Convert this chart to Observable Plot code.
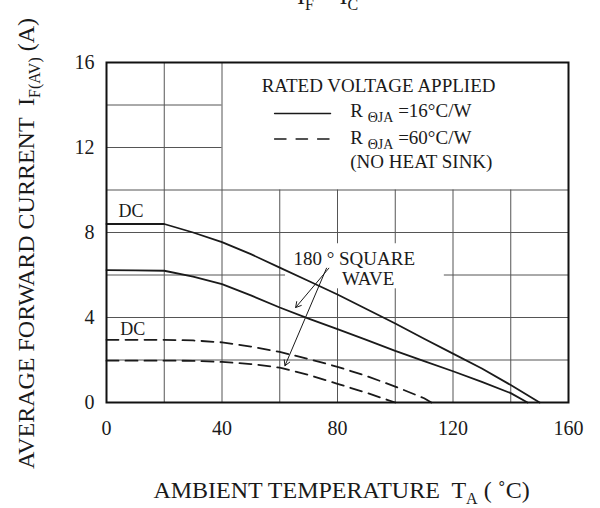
<!DOCTYPE html>
<html><head><meta charset="utf-8">
<script src="https://cdn.jsdelivr.net/npm/d3@7"></script>
<script src="https://cdn.jsdelivr.net/npm/@observablehq/plot@0.6"></script>
<style>
body{margin:0;background:#fff;}
#chart{position:relative;width:600px;height:508px;overflow:hidden;}
svg text{white-space:pre;}
</style></head><body><div id="chart"></div>
<script>
// ---- data ----
const temps16DC = [0,10,20,30,40,50,60,70,80,90,100,110,120,130,140,150];
const amps16DC  = [8.4,8.4,8.4,8.0,7.55,6.98,6.35,5.72,5.08,4.4,3.72,3.0,2.3,1.6,0.82,0];
const temps16SW = [0,10,20,30,40,50,60,70,80,90,100,110,120,130,140,145.8];
const amps16SW  = [6.23,6.22,6.2,5.92,5.57,5.04,4.47,3.95,3.45,2.95,2.43,1.95,1.47,0.97,0.44,0];
const temps60DC = [0,10,20,30,40,50,60,70,80,90,100,110,112.5];
const amps60DC  = [2.95,2.95,2.95,2.92,2.83,2.63,2.38,2.05,1.68,1.25,0.75,0.2,0];
const temps60SW = [0,10,20,30,40,50,60,70,80,90,100];
const amps60SW  = [1.97,1.97,1.97,1.96,1.91,1.81,1.64,1.3,0.88,0.46,0];
const xTicks = [0,40,80,120,160];
const yTicks = [0,4,8,12,16];
const vGridX   = [20,40,60,80,100,120,140];
const vGridTop = [16,16,10,10,10,10,10];
const hGridY     = [2,4,6,8,10,12,14];
const hGridRight = [160,160,160,160,160,40,40];

// ---- annotation anchors (data units) ----
const labelBox = [{x1:62, x2:117, y1:5.35, y2:7.47}];
const arrows = [{x1:77.0, y1:6.32, x2:65.5, y2:4.47},{x1:76.2, y1:6.32, x2:61.8, y2:1.73}];
const legendSolid = [{x:58.2, y:13.6},{x:77.6, y:13.6}];
const legendDash  = [{x:58.2, y:12.4},{x:77.6, y:12.4}];

const toRows = (xs, ys) => xs.map((x, i) => ({x, y: ys[i]}));
const FONT = '"Liberation Serif","Times New Roman",serif';
const INK = "#1a1a1a";

const plot = Plot.plot({
  width: 600, height: 508,
  marginLeft: 106, marginRight: 32, marginTop: 62, marginBottom: 106,
  x: {domain: [0,160]},
  y: {domain: [0,16]},
  style: {fontFamily: FONT, fontSize: "20px", color: INK, background: "white"},
  marks: [
    Plot.ruleX(vGridX.map((x,i)=>({x, top: vGridTop[i]})), {x:"x", y1:0, y2:"top", stroke:"#555", strokeWidth:1}),
    Plot.ruleY(hGridY.map((y,i)=>({y, right: hGridRight[i]})), {y:"y", x1:0, x2:"right", stroke:"#555", strokeWidth:1}),
    Plot.rect(labelBox, {x1:"x1", x2:"x2", y1:"y1", y2:"y2", fill:"white"}),
    Plot.line(toRows(temps16DC, amps16DC), {x:"x", y:"y", stroke:INK, strokeWidth:1.8}),
    Plot.line(toRows(temps16SW, amps16SW), {x:"x", y:"y", stroke:INK, strokeWidth:1.8}),
    Plot.line(toRows(temps60DC, amps60DC), {x:"x", y:"y", stroke:INK, strokeWidth:1.8, strokeDasharray:"12,7"}),
    Plot.line(toRows(temps60SW, amps60SW), {x:"x", y:"y", stroke:INK, strokeWidth:1.8, strokeDasharray:"12,7"}),
    Plot.line(legendSolid, {x:"x", y:"y", stroke:INK, strokeWidth:1.3}),
    Plot.line(legendDash, {x:"x", y:"y", stroke:INK, strokeWidth:1.3, strokeDasharray:"11.5,10"}),
    Plot.arrow(arrows, {x1:"x1", y1:"y1", x2:"x2", y2:"y2", stroke:INK, strokeWidth:1, headLength:9}),
    Plot.frame({stroke:"#111", strokeWidth:2}),
    Plot.axisX(xTicks, {tickSize:0, tickPadding:18, label:null, fontSize:20}),
    Plot.axisY(yTicks, {tickSize:0, tickPadding:12, label:null, fontSize:20})
  ]
});
document.getElementById("chart").appendChild(plot);

const svg = d3.select(plot);
const sx = plot.scale("x"), sy = plot.scale("y");
function txt(px, py, segs, size, anchor="start", parent=svg) {
  const t = parent.append("text").attr("x", px).attr("y", py)
    .attr("font-size", size).attr("text-anchor", anchor).attr("fill", INK)
    .attr("font-family", FONT);
  segs.forEach(s => {
    const ts = t.append("tspan").text(s.text);
    if (s.dy) ts.attr("dy", s.dy);
    if (s.size) ts.attr("font-size", s.size);
  });
  return t;
}
const S = (text) => ({text});
// in-plot labels
txt(sx.apply(4.3), sy.apply(8.69), [S("DC")], 18);
txt(sx.apply(4.9), sy.apply(3.14), [S("DC")], 18);
txt(sx.apply(64.9), sy.apply(6.43), [S("180 ° SQUARE")], 19);
txt(sx.apply(81.7), sy.apply(5.49), [S("WAVE")], 19);
// legend
txt(sx.apply(94.4), sy.apply(14.59), [S("RATED VOLTAGE APPLIED")], 19, "middle");
txt(sx.apply(84.6), sy.apply(13.41), [S("R "), {text:"ΘJA", size:14, dy:5}, {text:" =16°C/W", dy:-5}], 19);
txt(sx.apply(84.6), sy.apply(12.16), [S("R "), {text:"ΘJA", size:14, dy:5}, {text:" =60°C/W", dy:-5}], 19);
txt(sx.apply(84.6), sy.apply(11.03), [S("(NO HEAT SINK)")], 19);
// axis titles
txt(341.5, 498, [S("AMBIENT TEMPERATURE  T"), {text:"A", size:16, dy:6}, {text:" ( ˚C)", dy:-6}], 24, "middle");
const gy = svg.append("g").attr("transform", "translate(34,243.5) rotate(-90)");
txt(0, 0, [S("AVERAGE FORWARD CURRENT  I"), {text:"F(AV)", size:16, dy:6}, {text:" (A)", dy:-6}], 24, "middle", gy);
// cut-off title at top
txt(297, 4, [S("I"), {text:"F", size:16, dy:6}, {text:" = I", dy:-6}, {text:"C", size:16, dy:6}], 24, "start");
</script></body></html>
